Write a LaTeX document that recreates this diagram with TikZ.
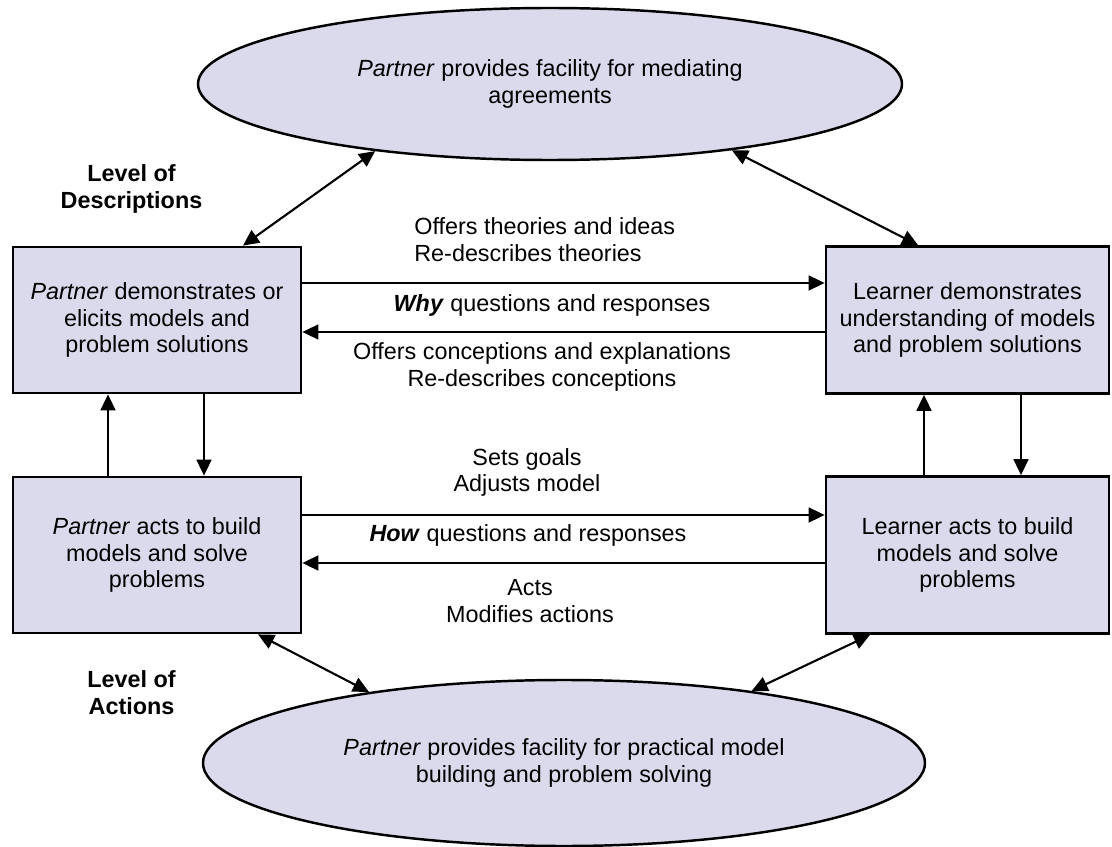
\documentclass[tikz,border=0pt]{standalone}
\usepackage{fontspec}
\setmainfont{Liberation Sans}
\usetikzlibrary{arrows.meta,shapes.geometric}
\definecolor{boxfill}{RGB}{218,218,236}

\begin{document}
\begin{tikzpicture}[x=0.2mm,y=-0.2mm,>={Triangle[length=3.2mm,width=3mm]},
  font=\fontsize{13.3}{15.3}\selectfont,
  box node/.style={rectangle,draw,line width=1.6pt,fill=boxfill,align=center},
  oval node/.style={ellipse,draw,line width=1.4pt,fill=boxfill,align=center,inner sep=0pt},
  level node/.style={align=center,font=\fontsize{13.3}{15.3}\selectfont\bfseries},
  link node/.style={align=center,inner sep=0pt}]
  \useasboundingbox (0,0) rectangle (1112,847);
  % the two facilities
  \node[oval node,minimum width=140.8mm,minimum height=30.4mm] (mediate) at (550,84) {\textit{Partner} provides facility for mediating\\agreements};
  \node[oval node,minimum width=144.4mm,minimum height=33.2mm] (build) at (564,763) {\textit{Partner} provides facility for practical model\\building and problem solving};
  % partner and learner
  \node[box node,minimum width=57.6mm,minimum height=29.2mm] (tl) at (157,320) {\textit{Partner} demonstrates or\\elicits models and\\problem solutions};
  \node[box node,minimum width=56.6mm,minimum height=29.4mm] (tr) at (967.5,320) {Learner demonstrates\\understanding of models\\and problem solutions};
  \node[box node,minimum width=57.6mm,minimum height=31.2mm] (bl) at (157,555) {\textit{Partner} acts to build\\models and solve\\problems};
  \node[box node,minimum width=56.6mm,minimum height=31.4mm] (br) at (967.5,555) {Learner acts to build\\models and solve\\problems};
  \node[level node] (descr) at (131.5,189) {Level of\\Descriptions};
  \node[level node] (action) at (131.5,692.5) {Level of\\Actions};
  \node[link node,align=left,anchor=west] (theories) at (414,240) {Offers theories and ideas\\Re-describes theories};
  \node[link node] (why) at (552,305) {\textbf{\textit{Why}} questions and responses};
  \node[link node] (conceptions) at (542,367) {Offers conceptions and explanations\\Re-describes conceptions};
  \node[link node] (goals) at (527,472.5) {Sets goals\\Adjusts model};
  \node[link node] (how) at (528,535) {\textbf{\textit{How}} questions and responses};
  \node[link node] (acts) at (530,601) {Acts\\Modifies actions};
  \path[->,line width=1pt]
    ([yshift=7.4mm]tl.east) edge ([yshift=7.4mm]tr.west)
    ([yshift=-2.4mm]tr.west) edge ([yshift=-2.4mm]tl.east)
    ([yshift=8mm]bl.east) edge ([yshift=8mm]br.west)
    ([yshift=-1.6mm]br.west) edge ([yshift=-1.6mm]bl.east)
    ([xshift=-9.8mm]bl.north) edge ([xshift=-9.8mm]tl.south)
    ([xshift=9.4mm]tl.south) edge ([xshift=9.4mm]bl.north)
    ([xshift=-8.7mm]br.north) edge ([xshift=-8.7mm]tr.south)
    ([xshift=10.7mm]tr.south) edge ([xshift=10.7mm]br.north);
  \path[<->,line width=1.2pt]
    ([xshift=17.2mm]tl.north) edge (mediate.201)
    ([xshift=-9.9mm]tr.north) edge (mediate.340)
    ([xshift=20.2mm]bl.south) edge (build.160)
    ([xshift=-19.5mm]br.south) edge (build.21);
\end{tikzpicture}
\end{document}
